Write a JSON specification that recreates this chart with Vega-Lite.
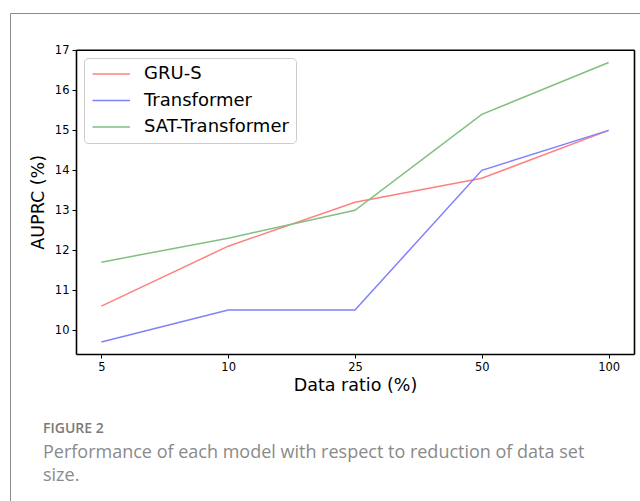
{
  "$schema": "https://vega.github.io/schema/vega-lite/v6.json",
  "width": 631,
  "height": 489,
  "padding": {"left": 10, "top": 13, "right": 0, "bottom": 0},
  "autosize": {"type": "none"},
  "background": "white",
  "title": {
    "text": "FIGURE 2",
    "subtitle": ["Performance of each model with respect to reduction of data set", "size."],
    "orient": "bottom",
    "anchor": "start",
    "frame": "group",
    "offset": -80,
    "dx": 33,
    "font": "Open Sans",
    "fontSize": 14,
    "fontWeight": 600,
    "color": "#7a7a7a",
    "subtitleFont": "Open Sans",
    "subtitleFontSize": 18,
    "subtitleColor": "#8a8a8a",
    "subtitleLineHeight": 22.5,
    "subtitlePadding": 8
  },
  "data": {
    "values": [
      {"ratio": 5, "model": "GRU-S", "auprc": 10.6},
      {"ratio": 10, "model": "GRU-S", "auprc": 12.1},
      {"ratio": 25, "model": "GRU-S", "auprc": 13.2},
      {"ratio": 50, "model": "GRU-S", "auprc": 13.8},
      {"ratio": 100, "model": "GRU-S", "auprc": 15.0},
      {"ratio": 5, "model": "Transformer", "auprc": 9.7},
      {"ratio": 10, "model": "Transformer", "auprc": 10.5},
      {"ratio": 25, "model": "Transformer", "auprc": 10.5},
      {"ratio": 50, "model": "Transformer", "auprc": 14.0},
      {"ratio": 100, "model": "Transformer", "auprc": 15.0},
      {"ratio": 5, "model": "SAT-Transformer", "auprc": 11.7},
      {"ratio": 10, "model": "SAT-Transformer", "auprc": 12.3},
      {"ratio": 25, "model": "SAT-Transformer", "auprc": 13.0},
      {"ratio": 50, "model": "SAT-Transformer", "auprc": 15.4},
      {"ratio": 100, "model": "SAT-Transformer", "auprc": 16.7}
    ]
  },
  "resolve": {"axis": {"x": "independent", "y": "independent"}},
  "layer": [
    {
      "mark": {"type": "line", "strokeWidth": 1.5},
      "encoding": {
        "x": {
          "field": "ratio",
          "type": "ordinal",
          "scale": {"domain": [5, 10, 25, 50, 100], "range": [66, 624], "padding": 0.2},
          "axis": {"orient": "bottom", "offset": -148, "title": "Data ratio (%)", "labelAngle": 0, "labelPadding": 3, "titlePadding": 4}
        },
        "y": {
          "field": "auprc",
          "type": "quantitative",
          "scale": {"domain": [9.4, 17.02], "range": [341, 36.7], "nice": false, "zero": false},
          "axis": {"orient": "left", "offset": -66, "title": "AUPRC (%)", "values": [10, 11, 12, 13, 14, 15, 16, 17], "labelPadding": 3, "titlePadding": 7}
        },
        "color": {
          "field": "model",
          "type": "nominal",
          "scale": {"domain": ["GRU-S", "Transformer", "SAT-Transformer"], "range": ["#ff8080", "#8080ff", "#80c080"]},
          "legend": {
            "title": null,
            "orient": "none",
            "legendX": 74,
            "legendY": 45,
            "symbolType": "M-1,0H4",
            "symbolSize": 225,
            "symbolStrokeWidth": 1.5,
            "symbolFillColor": "transparent",
            "labelFont": "DejaVu Sans",
            "labelFontSize": 18,
            "labelColor": "black",
            "labelOffset": 35,
            "rowPadding": 8.5,
            "padding": 7,
            "strokeColor": "#cccccc",
            "fillColor": "white",
            "cornerRadius": 4
          }
        }
      }
    },
    {
      "mark": {"type": "line", "strokeOpacity": 0},
      "encoding": {
        "x": {
          "field": "ratio",
          "type": "ordinal",
          "axis": {"orient": "top", "offset": -36.7, "title": null, "labels": false, "ticks": false}
        },
        "y": {
          "field": "auprc",
          "type": "quantitative",
          "axis": {"orient": "right", "offset": -7, "title": null, "labels": false, "ticks": false}
        },
        "detail": {"field": "model"}
      }
    }
  ],
  "config": {
    "view": {"stroke": "#8a8a8a", "strokeWidth": 1, "fill": "white"},
    "axis": {
      "grid": false,
      "domainColor": "black",
      "domainWidth": 1.6,
      "tickColor": "black",
      "tickSize": 4,
      "tickWidth": 1,
      "labelFont": "DejaVu Sans",
      "labelFontSize": 11.5,
      "labelColor": "black",
      "titleFont": "DejaVu Sans",
      "titleFontSize": 17.5,
      "titleFontWeight": "normal",
      "titleColor": "black"
    }
  }
}
